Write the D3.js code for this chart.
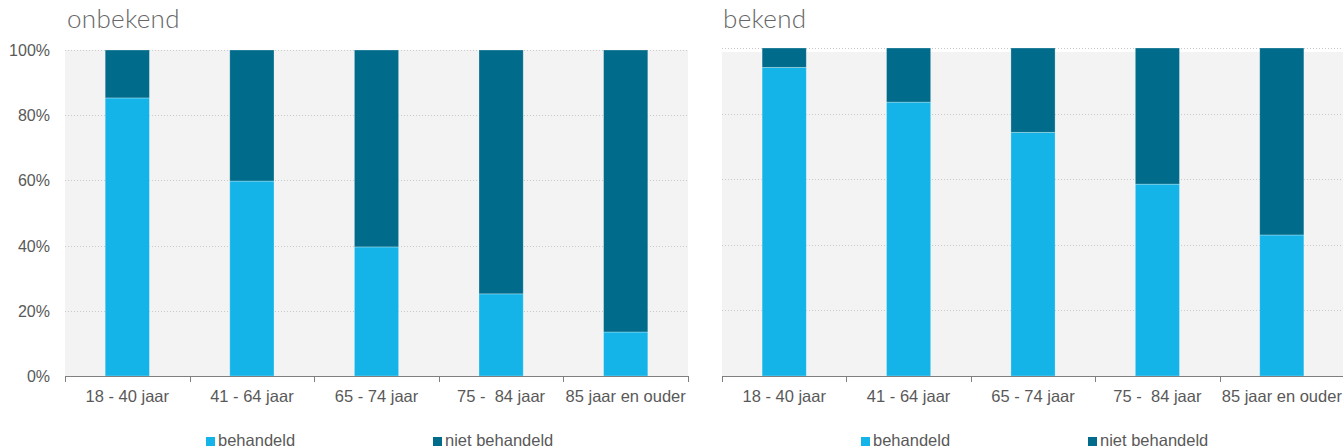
<!DOCTYPE html>
<html><head><meta charset="utf-8">
<script src="https://cdn.jsdelivr.net/npm/d3@7"></script>
<style>
html,body{margin:0;padding:0;background:#fff;}
svg{display:block;}
</style></head>
<body>
<svg id="c" width="1343" height="448"></svg>
<script>
const categories = ["18 - 40 jaar", "41 - 64 jaar", "65 - 74 jaar", "75 -  84 jaar", "85 jaar en ouder"];
const seriesNames = ["behandeld", "niet behandeld"];
const onbekendBehandeld = [85.3, 59.8, 39.6, 25.2, 13.5];
const bekendBehandeld = [94.1, 83.5, 74.3, 58.5, 43.0];
const yTicks = [0, 20, 40, 60, 80, 100];
const colors = ["#14b4e8", "#006b8a"];

const svg = d3.select("#c");
const panels = [
  {title: "onbekend", vals: onbekendBehandeld, x0: 65, x1: 688, yTop: 50, bgTop: 50, showY: true, titleX: 67, legX: [206, 433]},
  {title: "bekend", vals: bekendBehandeld, x0: 722, x1: 1344, yTop: 48, bgTop: 52, showY: false, titleX: 723, legX: [861, 1088]}
];
const yBottom = 376;
const font = "Liberation Sans, Arial, sans-serif";

panels.forEach(p => {
  const g = svg.append("g");
  const x = d3.scaleBand().domain(categories).range([p.x0, p.x1]).paddingInner(0.645).paddingOuter(0.3225);
  const xb = d3.scaleBand().domain(categories).range([p.x0, p.x1]);
  const y = d3.scaleLinear().domain([0, 100]).range([yBottom, p.yTop]);

  g.append("rect").attr("x", p.x0).attr("y", p.bgTop).attr("width", p.x1 - p.x0).attr("height", yBottom - p.bgTop).attr("fill", "#f3f3f3");

  g.append("g").selectAll("line").data(yTicks.filter(t => t > 0)).join("line")
    .attr("x1", p.x0).attr("x2", p.x1)
    .attr("y1", d => Math.round(y(d)) + 0.5).attr("y2", d => Math.round(y(d)) + 0.5)
    .attr("stroke", "#c9c9c9").attr("stroke-width", 1).attr("stroke-dasharray", "1,2");

  const rows = categories.map((c, i) => ({cat: c, behandeld: p.vals[i], "niet behandeld": 100 - p.vals[i]}));
  const stack = d3.stack().keys(seriesNames)(rows);
  g.append("g").selectAll("g").data(stack).join("g").attr("fill", (d, i) => colors[i])
    .selectAll("rect").data(d => d).join("rect")
    .attr("x", d => x(d.data.cat)).attr("width", x.bandwidth())
    .attr("y", d => y(d[1])).attr("height", d => y(d[0]) - y(d[1]))
    .attr("stroke", "rgba(255,255,255,0.35)").attr("stroke-width", 0.8);

  const ax = g.append("g");
  ax.append("line").attr("x1", p.x0).attr("x2", p.x1).attr("y1", yBottom + 0.5).attr("y2", yBottom + 0.5).attr("stroke", "#7f7f7f");
  const bounds = categories.map(c => xb(c)).concat([p.x1]);
  ax.selectAll("line.t").data(bounds).join("line").attr("class", "t")
    .attr("x1", d => Math.round(d) + 0.5).attr("x2", d => Math.round(d) + 0.5)
    .attr("y1", yBottom).attr("y2", yBottom + 6).attr("stroke", "#7f7f7f");
  ax.selectAll("text").data(categories).join("text")
    .attr("x", d => xb(d) + xb.bandwidth() / 2).attr("y", 402)
    .attr("text-anchor", "middle").attr("font-family", font)
    .attr("font-size", 16.5).attr("fill", "#595959").style("white-space", "pre").text(d => d);

  if (p.showY) {
    g.append("g").selectAll("text").data(yTicks).join("text")
      .attr("x", 50).attr("y", d => y(d) + 6).attr("text-anchor", "end")
      .attr("font-family", font).attr("font-size", 16).attr("fill", "#595959")
      .text(d => d + "%");
  }

  g.append("text").attr("x", p.titleX).attr("y", 28).attr("font-family", "Lato, sans-serif").attr("font-weight", 300)
    .attr("font-size", 26).attr("letter-spacing", 0.3).attr("fill", "#666").text(p.title);

  const lg = g.append("g");
  seriesNames.forEach((s, i) => {
    lg.append("rect").attr("x", p.legX[i]).attr("y", 437).attr("width", 9).attr("height", 9).attr("fill", colors[i]);
    lg.append("text").attr("x", p.legX[i] + 12).attr("y", 446).attr("font-family", font)
      .attr("font-size", 16.5).attr("fill", "#595959").text(s);
  });
});
</script>
</body></html>
